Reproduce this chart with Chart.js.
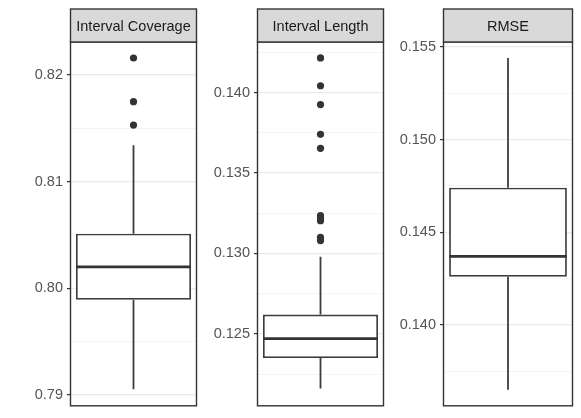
<!DOCTYPE html>
<html>
<head>
<meta charset="utf-8">
<script src="https://cdn.jsdelivr.net/npm/chart.js@4.4.1/dist/chart.umd.min.js"></script>
<style>
  body { margin: 0; background: #fff; }
  canvas { position: absolute; top: 0; }
</style>
</head>
<body>
<canvas id="p0" width="200" height="418" style="left:0px"></canvas>
<canvas id="p1" width="187" height="418" style="left:200px"></canvas>
<canvas id="p2" width="194" height="418" style="left:387px"></canvas>
<script>
// facet names
const panels = ["Interval Coverage", "Interval Length", "RMSE"];

// box statistics, one value per facet
const whiskerLow = [0.7905, 0.1216, 0.1365];
const q1 = [0.7989, 0.1235, 0.1426];
const medians = [0.802, 0.1247, 0.1437];
const q3 = [0.8051, 0.1262, 0.1474];
const whiskerHigh = [0.8134, 0.1298, 0.1544];

// outlying points
const outliersCoverage = [0.8153, 0.8175, 0.8216];
const outliersLength = [0.1308, 0.131, 0.13204, 0.1322, 0.13235, 0.13654, 0.13741, 0.13926, 0.14043, 0.14216];
const outliersRmse = [];
const outliers = [outliersCoverage, outliersLength, outliersRmse];

// y axis limits and ticks
const axisMin = [0.789, 0.12056, 0.13566];
const axisMax = [0.8231, 0.14315, 0.15527];
const majorStep = [0.01, 0.005, 0.005];
const tickDecimals = [2, 3, 3];

// layout of each facet inside its canvas
const axisWidth = [71, 58, 57];
const padRight = [2, 2, 9];

const FONT = "'Liberation Sans', Arial, sans-serif";
const DARK = "#333333";
const LINE = "#3d3d3d";

function isMajor(v, step) {
  const r = v / step;
  return Math.abs(r - Math.round(r)) < 1e-6;
}

const facetPlugin = {
  id: "facet",
  afterDatasetsDraw(chart) {
    const i = chart.options.plugins.facet.index;
    const ctx = chart.ctx;
    const bar = chart.getDatasetMeta(0).data[0];
    const y = chart.scales.y.getPixelForValue(medians[i]);
    ctx.save();
    ctx.strokeStyle = DARK;
    ctx.lineWidth = 2.8;
    ctx.beginPath();
    ctx.moveTo(bar.x - bar.width / 2, y);
    ctx.lineTo(bar.x + bar.width / 2, y);
    ctx.stroke();
    ctx.restore();
  },
  afterDraw(chart) {
    const i = chart.options.plugins.facet.index;
    const ctx = chart.ctx;
    const a = chart.chartArea;
    const stripTop = 9;
    ctx.save();
    // panel border
    ctx.strokeStyle = DARK;
    ctx.lineWidth = 1.4;
    ctx.strokeRect(a.left - 0.5, a.top, a.right - a.left + 1, a.bottom - a.top + 0.5);
    // strip
    ctx.fillStyle = "#d9d9d9";
    ctx.fillRect(a.left - 0.5, stripTop, a.right - a.left + 1, a.top - stripTop);
    ctx.strokeRect(a.left - 0.5, stripTop, a.right - a.left + 1, a.top - stripTop);
    ctx.fillStyle = "#1a1a1a";
    ctx.font = "14.5px " + FONT;
    ctx.textAlign = "center";
    ctx.textBaseline = "middle";
    ctx.fillText(panels[i], (a.left + a.right) / 2, (stripTop + a.top) / 2 + 1);
    ctx.restore();
  },
};

panels.forEach((name, i) => {
  const ctx = document.getElementById("p" + i).getContext("2d");
  const step = majorStep[i];
  new Chart(ctx, {
    type: "bar",
    data: {
      labels: [name],
      datasets: [
        {
          type: "bar",
          data: [[q1[i], q3[i]]],
          backgroundColor: "#ffffff",
          borderColor: LINE,
          borderWidth: 1.8,
          borderSkipped: false,
          barPercentage: 0.92,
          categoryPercentage: 1,
          order: 1,
        },
        {
          type: "line",
          data: [{ x: name, y: q3[i] }, { x: name, y: whiskerHigh[i] }],
          borderColor: LINE,
          borderWidth: 1.8,
          pointRadius: 0,
          order: 2,
        },
        {
          type: "line",
          data: [{ x: name, y: whiskerLow[i] }, { x: name, y: q1[i] }],
          borderColor: LINE,
          borderWidth: 1.8,
          pointRadius: 0,
          order: 2,
        },
        {
          type: "line",
          data: outliers[i].map((v) => ({ x: name, y: v })),
          showLine: false,
          pointRadius: 3.6,
          pointBackgroundColor: DARK,
          pointBorderWidth: 0,
          order: 0,
        },
      ],
    },
    options: {
      responsive: false,
      animation: false,
      devicePixelRatio: 1,
      layout: { padding: { top: 42, bottom: 10, left: 0, right: padRight[i] } },
      plugins: {
        legend: { display: false },
        tooltip: { enabled: false },
        facet: { index: i },
      },
      scales: {
        x: { display: false, offset: true },
        y: {
          min: axisMin[i],
          max: axisMax[i],
          afterFit(scale) {
            scale.width = axisWidth[i];
          },
          border: { display: false },
          grid: {
            color: (c) => (isMajor(c.tick.value, step) ? "#ebebeb" : "#f4f4f4"),
            lineWidth: (c) => (isMajor(c.tick.value, step) ? 1.2 : 1),
            tickColor: (c) => (isMajor(c.tick.value, step) ? DARK : "rgba(0,0,0,0)"),
            tickLength: 4,
            tickWidth: 1.2,
          },
          ticks: {
            stepSize: step / 2,
            includeBounds: false,
            maxTicksLimit: 30,
            autoSkip: false,
            padding: 4,
            color: "#555555",
            font: { family: FONT, size: 14.5 },
            callback: (v) => (isMajor(v, step) ? Number(v).toFixed(tickDecimals[i]) : ""),
          },
        },
      },
    },
    plugins: [facetPlugin],
  });
});
</script>
</body>
</html>
